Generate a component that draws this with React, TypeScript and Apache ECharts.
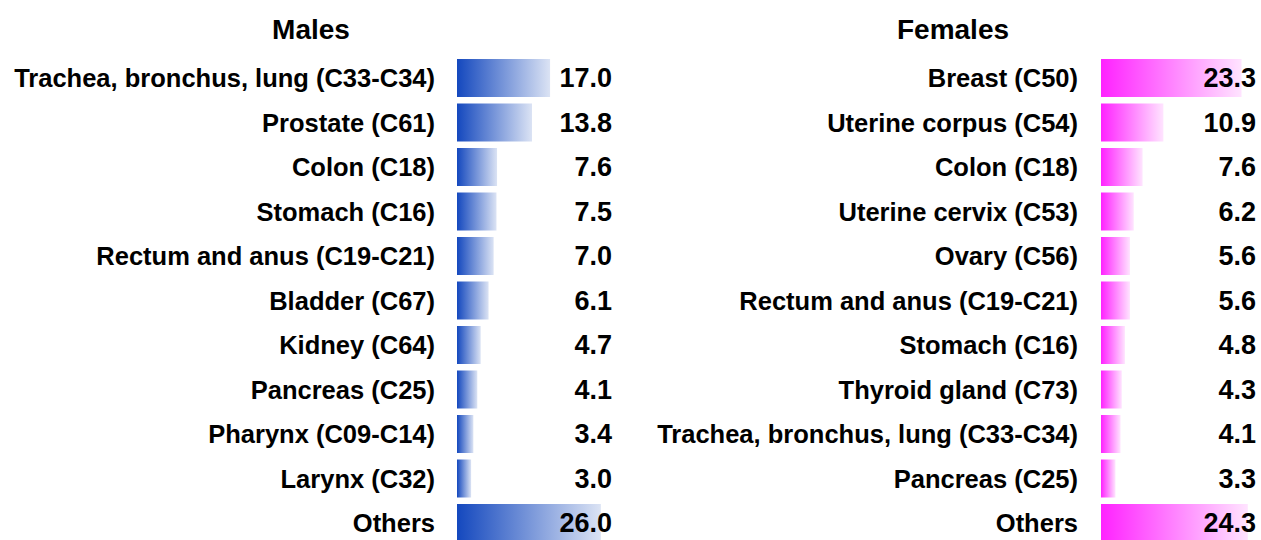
import React, { useEffect, useRef } from "react";
import * as echarts from "echarts";

const maleCategories = [
  "Trachea, bronchus, lung (C33-C34)",
  "Prostate (C61)",
  "Colon (C18)",
  "Stomach (C16)",
  "Rectum and anus (C19-C21)",
  "Bladder (C67)",
  "Kidney (C64)",
  "Pancreas (C25)",
  "Pharynx (C09-C14)",
  "Larynx (C32)",
  "Others",
];
const maleValues = [17.0, 13.8, 7.6, 7.5, 7.0, 6.1, 4.7, 4.1, 3.4, 3.0, 26.0];

const femaleCategories = [
  "Breast (C50)",
  "Uterine corpus (C54)",
  "Colon (C18)",
  "Uterine cervix (C53)",
  "Ovary (C56)",
  "Rectum and anus (C19-C21)",
  "Stomach (C16)",
  "Thyroid gland (C73)",
  "Trachea, bronchus, lung (C33-C34)",
  "Pancreas (C25)",
  "Others",
];
const femaleValues = [23.3, 10.9, 7.6, 6.2, 5.6, 5.6, 4.8, 4.3, 4.1, 3.3, 24.3];

const FONT = "'Liberation Sans', Arial, sans-serif";

export default function App() {
  const ref = useRef<HTMLDivElement>(null);
  useEffect(() => {
    if (!ref.current) return;
    const chart = echarts.init(ref.current, null, { renderer: "svg" });
    const blue = new echarts.graphic.LinearGradient(0, 0, 1, 0, [
      { offset: 0, color: "#1448be" },
      { offset: 1, color: "#dbe3f4" },
    ]);
    const pink = new echarts.graphic.LinearGradient(0, 0, 1, 0, [
      { offset: 0, color: "#ff22ff" },
      { offset: 1, color: "#ffe4ff" },
    ]);
    const catLabel = {
      color: "#000",
      fontFamily: FONT,
      fontWeight: "bold" as const,
      fontSize: 25.5,
      padding: [4, 0, 0, 0],
    };
    const valLabel = { ...catLabel, fontSize: 27 };
    const top = 55.75;
    const height = 489.5;
    chart.setOption({
      animation: false,
      title: [
        {
          text: "Males",
          left: 306,
          top: 10,
          textAlign: "center",
          textStyle: { fontFamily: FONT, fontWeight: "bold", fontSize: 28, color: "#000" },
        },
        {
          text: "Females",
          left: 948,
          top: 10,
          textAlign: "center",
          textStyle: { fontFamily: FONT, fontWeight: "bold", fontSize: 28, color: "#000" },
        },
      ],
      grid: [
        { left: 457, top, width: 155.1, height, containLabel: false, outerBoundsMode: "none" },
        { left: 1101, top, width: 155, height, containLabel: false, outerBoundsMode: "none" },
      ],
      xAxis: [
        { gridIndex: 0, type: "value", min: 0.5, max: 28, show: false },
        { gridIndex: 1, type: "value", min: 1, max: 25.6, show: false },
      ],
      yAxis: [
        {
          gridIndex: 0,
          type: "category",
          inverse: true,
          data: maleCategories,
          axisLine: { show: false },
          axisTick: { show: false },
          axisLabel: { ...catLabel, margin: 22 },
        },
        {
          gridIndex: 0,
          type: "category",
          inverse: true,
          position: "right",
          z: 10,
          data: maleValues.map((v) => v.toFixed(1)),
          axisLine: { show: false },
          axisTick: { show: false },
          axisLabel: { ...valLabel, inside: true, margin: 0 },
        },
        {
          gridIndex: 1,
          type: "category",
          inverse: true,
          data: femaleCategories,
          axisLine: { show: false },
          axisTick: { show: false },
          axisLabel: { ...catLabel, margin: 23 },
        },
        {
          gridIndex: 1,
          type: "category",
          inverse: true,
          position: "right",
          z: 10,
          data: femaleValues.map((v) => v.toFixed(1)),
          axisLine: { show: false },
          axisTick: { show: false },
          axisLabel: { ...valLabel, inside: true, margin: 0 },
        },
      ],
      series: [
        {
          type: "bar",
          xAxisIndex: 0,
          yAxisIndex: 0,
          data: maleValues,
          barWidth: 38,
          itemStyle: { color: blue },
          silent: true,
        },
        {
          type: "bar",
          xAxisIndex: 1,
          yAxisIndex: 2,
          data: femaleValues,
          barWidth: 38,
          itemStyle: { color: pink },
          silent: true,
        },
      ],
    });
    return () => chart.dispose();
  }, []);
  return (
    <div
      ref={ref}
      style={{ position: "fixed", left: 0, top: 0, width: 1261, height: 540, background: "#fff" }}
    />
  );
}
